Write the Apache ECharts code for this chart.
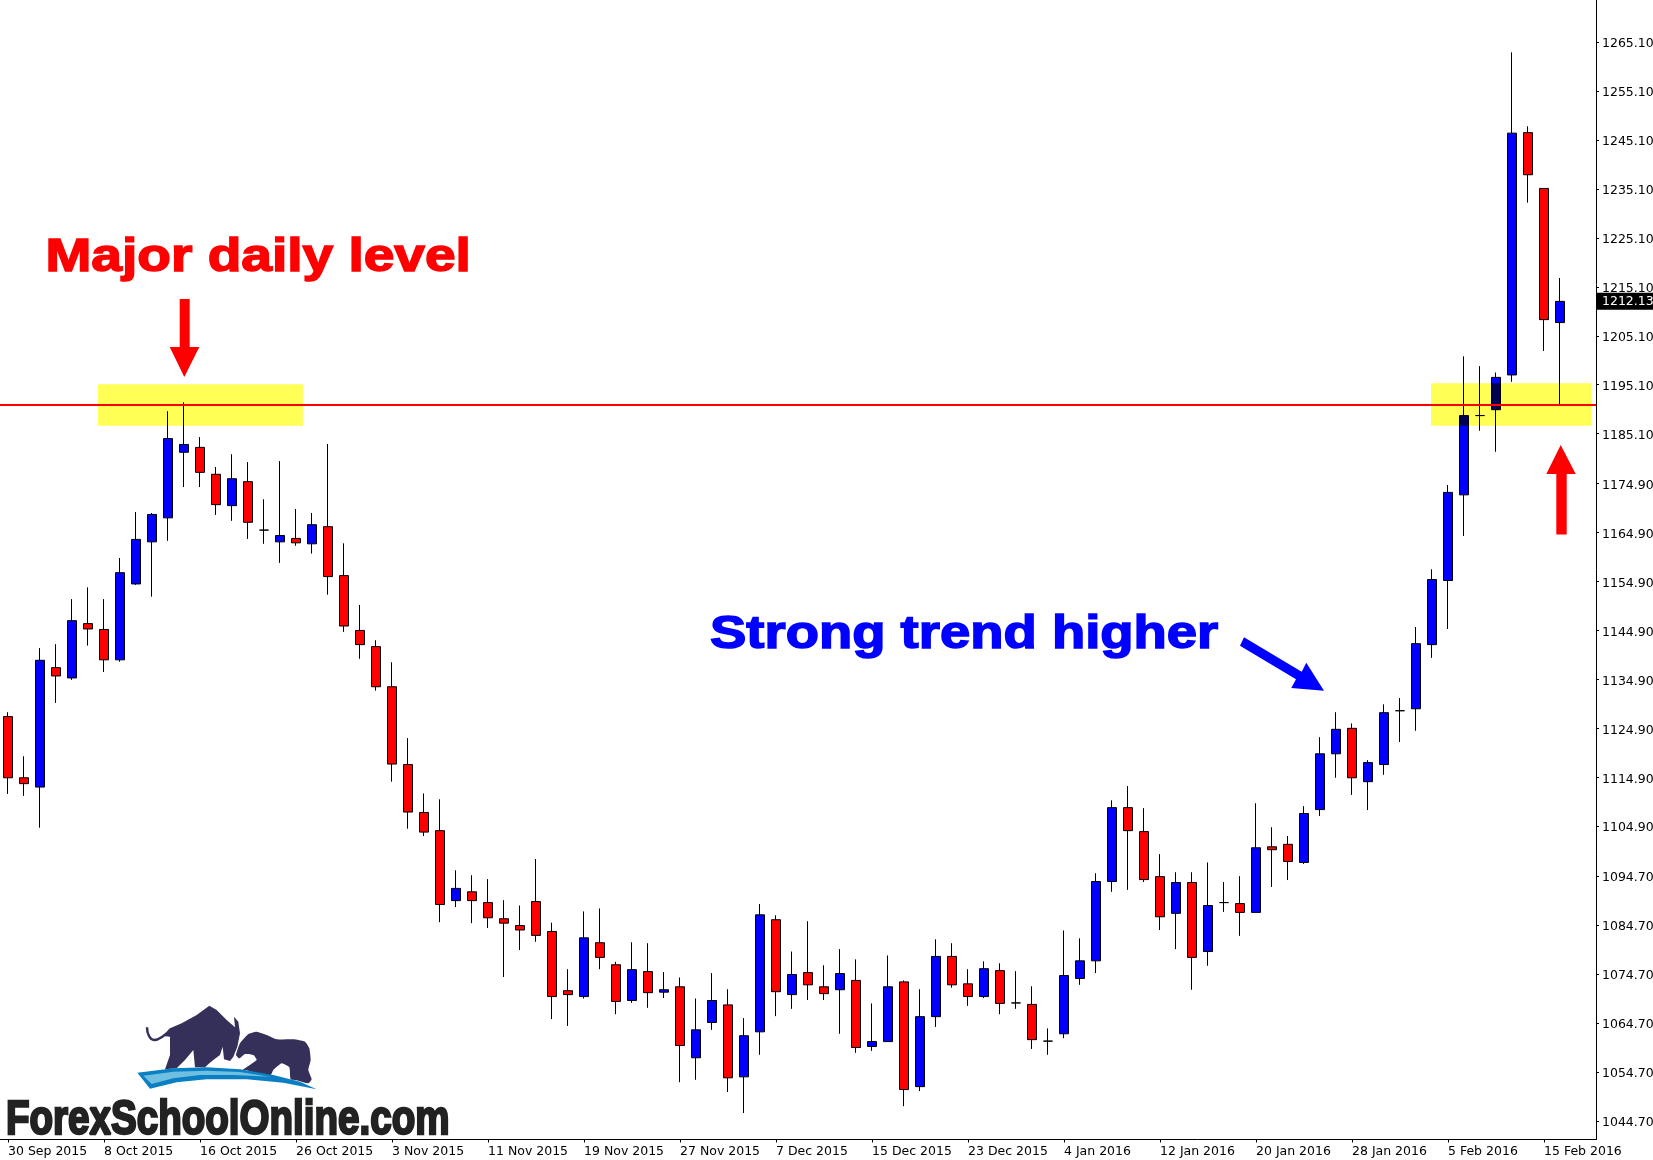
<!DOCTYPE html>
<html><head><meta charset="utf-8">
<style>html,body{margin:0;padding:0;background:#fff;overflow:hidden}#c{width:1653px;height:1160px}</style>
<script src="https://cdn.jsdelivr.net/npm/echarts@6/dist/echarts.min.js"></script>
</head><body><div id="c"></div>
<script>
// candle values, [open, close, low, high]; blue = rising, red = falling
const candlesA = [
[1127.3,1114.8,1111.5,1128.2],[1114.8,1113.6,1111.1,1119.2],[1112.9,1138.8,1104.6,1141.3],[1137.3,1135.6,1130.1,1142.1],
[1135.2,1146.9,1134.8,1151.3],[1146.3,1145.2,1141.8,1153.7],[1145.1,1138.9,1136.4,1151.3],[1138.9,1156.7,1138.5,1159.7],
[1154.4,1163.5,1154.2,1169.1],[1163.0,1168.6,1151.8,1168.9],[1167.9,1184.1,1163.2,1189.7],[1181.3,1182.9,1174.2,1191.5],
[1182.3,1177.2,1174.2,1184.4],[1176.8,1170.6,1168.5,1178.3],[1170.4,1175.9,1167.3,1180.9],[1175.3,1167.0,1163.6,1179.3],
[1165.4,1165.4,1162.6,1171.7],[1163.0,1164.3,1158.7,1179.5],[1163.7,1162.8,1162.2,1169.7],[1162.6,1166.5,1160.6,1168.9],
[1166.1,1155.9,1152.2,1183.0],[1156.1,1145.8,1144.6,1162.7],[1144.9,1142.0,1139.1,1150.1],[1141.6,1133.4,1132.6,1142.9],
[1133.4,1117.6,1114.0,1138.4],[1117.5,1107.8,1104.4,1122.9],[1107.7,1103.7,1102.9,1111.6]];
const candlesB = [
[1104.0,1088.9,1085.3,1110.4],[1089.7,1092.2,1088.4,1095.9],[1091.5,1089.7,1085.1,1094.9],[1089.3,1086.2,1084.1,1094.1],
[1086.0,1085.1,1074.1,1089.8],[1084.6,1083.7,1079.6,1088.7],[1089.5,1082.6,1081.3,1098.2],[1083.4,1070.1,1065.5,1085.2],
[1071.3,1070.5,1064.1,1075.7],[1070.1,1082.1,1069.7,1087.5],[1081.1,1078.1,1075.7,1088.1],[1076.6,1069.1,1066.5,1077.2],
[1069.3,1075.6,1068.8,1081.2],[1075.2,1070.9,1067.8,1081.0],[1071.0,1071.5,1069.8,1075.1],[1072.1,1060.1,1052.6,1074.0],
[1057.6,1063.3,1053.1,1069.7],[1064.8,1069.3,1063.3,1074.9],[1068.4,1053.5,1050.6,1071.6],[1053.7,1062.1,1046.3,1065.7],
[1062.9,1086.8,1058.2,1089.0],[1085.8,1071.1,1066.1,1086.7],[1070.5,1074.6,1067.6,1079.3],[1075.0,1072.5,1069.4,1085.5],
[1072.1,1070.7,1069.4,1076.5],[1071.5,1074.8,1062.5,1079.8],[1073.4,1059.7,1058.6,1077.7],[1059.9,1060.9,1059.0,1068.7],
[1060.9,1072.1,1060.9,1078.5],[1073.1,1051.1,1047.7,1073.4],[1051.7,1066.0,1050.8,1071.6],[1066.0,1078.3,1063.9,1081.8]];
const candlesC = [
[1078.3,1072.5,1071.9,1081.0],[1072.7,1070.1,1068.2,1075.7],[1070.1,1075.8,1069.8,1077.3],[1075.4,1068.7,1066.5,1076.9],
[1068.8,1068.8,1067.6,1075.3],[1068.5,1061.3,1059.4,1072.2],[1061.0,1061.0,1058.2,1063.6],[1062.5,1074.4,1061.6,1083.6],
[1073.8,1077.4,1072.5,1082.0],[1077.4,1093.6,1074.9,1095.3],[1093.6,1108.7,1091.5,1110.2],[1108.7,1104.0,1091.9,1113.1],
[1103.8,1094.0,1093.5,1108.6],[1094.6,1086.4,1083.7,1099.2],[1087.1,1093.4,1079.8,1095.5],[1093.4,1078.1,1071.5,1095.5],
[1079.3,1088.7,1076.4,1097.5],[1089.3,1089.3,1087.4,1093.5],[1089.1,1087.3,1082.5,1094.7],[1087.3,1100.5,1087.3,1109.6],
[1100.7,1100.1,1092.5,1104.7],[1101.2,1097.7,1093.9,1102.9],[1097.5,1107.5,1097.2,1109.0],[1108.3,1119.7,1107.0,1123.1],
[1119.7,1124.7,1114.8,1128.2],[1124.9,1114.8,1111.3,1125.9],[1114.0,1117.9,1108.2,1118.4],[1117.5,1128.1,1115.4,1129.8],
[1128.5,1128.5,1122.1,1131.1],[1128.9,1142.2,1124.4,1145.6],[1142.0,1155.3,1139.3,1157.4],[1155.1,1173.1,1145.2,1174.6],
[1172.6,1188.8,1164.2,1200.9],[1188.8,1188.8,1185.7,1198.9],[1190.0,1196.6,1181.4,1197.6],[1197.1,1246.5,1195.7,1263.0],
[1246.6,1238.0,1232.3,1247.9],[1235.2,1208.4,1202.0,1235.2],[1207.8,1212.13,1190.9,1216.9]];
const dateLabels = ['30 Sep 2015','8 Oct 2015','16 Oct 2015','26 Oct 2015','3 Nov 2015','11 Nov 2015','19 Nov 2015','27 Nov 2015','7 Dec 2015','15 Dec 2015','23 Dec 2015','4 Jan 2016','12 Jan 2016','20 Jan 2016','28 Jan 2016','5 Feb 2016','15 Feb 2016'];
const priceTicks = ['1265.10','1255.10','1245.10','1235.10','1225.10','1215.10','1205.10','1195.10','1185.10','1174.90','1164.90','1154.90','1144.90','1134.90','1124.90','1114.90','1104.90','1094.70','1084.70','1074.70','1064.70','1054.70','1044.70'];
const levelPrice = 1190.93;
const lastPrice = 1212.13;
// [first candle position, last candle position, low price, high price]
const zones = [[5.62,18.43,1186.7,1195.2],[88.94,98.98,1186.7,1195.4]];

const candles = candlesA.concat(candlesB, candlesC);
const rows = candles.map((c,i)=>[i,c[0],c[1],c[2],c[3]]);
const tickIdx = dateLabels.map((d,i)=>i*6);
const font = 'DejaVu Sans';

const chart = echarts.init(document.getElementById('c'),null,{renderer:'canvas'});
const P = a => a.map(p=>[p[0]/3, 980+p[1]/3]);
chart.setOption({
  animation:false,
  backgroundColor:'#fff',
  grid:{left:0,top:0,width:1596,height:1139.5,outerBoundsMode:'none'},
  xAxis:{type:'value',min:-0.5,max:99.25,splitLine:{show:false},
    axisLine:{show:true,onZero:false,lineStyle:{color:'#000',width:1}},
    axisTick:{show:true,customValues:tickIdx,length:3,lineStyle:{color:'#000'}},
    axisLabel:{show:true,customValues:tickIdx,align:'left',margin:6,color:'#000',fontFamily:font,fontSize:12.5,hideOverlap:false,
      formatter:v=>dateLabels[Math.round(v/6)]}},
  yAxis:{type:'value',position:'right',min:1040.9,max:1273.7,splitLine:{show:false},
    axisLine:{show:true,onZero:false,lineStyle:{color:'#000',width:1}},
    axisTick:{show:true,customValues:priceTicks.map(Number),length:3,lineStyle:{color:'#000'}},
    axisLabel:{show:true,customValues:priceTicks.map(Number),margin:6,color:'#000',fontFamily:font,fontSize:12.5,hideOverlap:false,
      rich:{t:{padding:[4,0,0,0],color:'#000',fontFamily:font,fontSize:12.5}},
      formatter:v=>'{t|'+v.toFixed(2)+'}'}},
  series:[
   {type:'candlestick',data:rows,encode:{x:0,y:[1,2,3,4]},barWidth:10,z:2,
    itemStyle:{color:'#0000ff',color0:'#ff0000',borderColor:'#000',borderColor0:'#000',borderColorDoji:'#000',borderWidth:1},
    markLine:{silent:true,symbol:'none',animation:false,z:3,
      data:[
       {yAxis:levelPrice,lineStyle:{color:'#ff0000',width:2,type:'solid'},label:{show:false}},
       {yAxis:lastPrice,lineStyle:{color:'rgba(0,0,0,0)',width:0},label:{show:true,position:'end',distance:1,formatter:String(lastPrice),
          color:'#fff',backgroundColor:'#000',fontFamily:font,fontSize:12.5,padding:[2,10,2,5]}}
      ]}},
   {type:'custom',z:5,clip:false,blendMode:'multiply',data:zones,encode:{x:[0,1],y:[2,3]},silent:true,
    renderItem:(p,api)=>{
      const a=api.coord([api.value(0),api.value(3)]),b=api.coord([api.value(1),api.value(2)]);
      return {type:'rect',shape:{x:a[0],y:a[1],width:b[0]-a[0],height:b[1]-a[1]},style:{fill:'#ffff55'}};
    }}
  ],
  graphic:[
   {type:'text',z:10,x:45.5,y:235,scaleX:1.197,style:{text:'Major daily level',fill:'#ff0000',stroke:'#ff0000',lineWidth:1.5,font:'bold 46px "Liberation Sans"'}},
   {type:'text',z:10,x:710,y:612,scaleX:1.184,style:{text:'Strong trend higher',fill:'#0000ff',stroke:'#0000ff',lineWidth:1.5,font:'bold 46px "Liberation Sans"'}},
   {type:'polygon',z:10,shape:{points:[[179.7,299],[189.7,299],[189.7,347],[199.3,347],[184.3,377],[169.7,347],[179.7,347]]},style:{fill:'#ff0000'}},
   {type:'polygon',z:10,shape:{points:[[1556.3,534.6],[1566.7,534.6],[1566.7,474],[1575.7,474],[1560.7,445],[1546.3,474],[1556.3,474]]},style:{fill:'#ff0000'}},
   {type:'polygon',z:10,shape:{points:[[1244,637.3],[1301.7,671.7],[1306.3,662.7],[1324,690.7],[1291.3,688],[1296,679.3],[1240,645.7]]},style:{fill:'#0000ff'}},
   {type:'polyline',z:10,shape:{smooth:0.5,points:P([[441,142],[447,168],[462,180],[490,168],[512,148]])},style:{fill:'none',stroke:'#35305a',lineWidth:2.5}},
   {type:'polygon',z:10,shape:{points:P([[490,168],[510,145],[545,130],[590,105],[628,77],[650,90],[680,120],[705,142],[702,110],[715,125],[720,160],[712,200],[700,230],[690,243],[672,238],[668,200],[660,225],[640,240],[628,250],[615,262],[585,262],[580,210],[555,240],[530,265],[495,268],[510,225],[510,170]])},style:{fill:'#35305a'}},
   {type:'polygon',z:10,shape:{smooth:0.15,points:P([[708,225],[720,190],[745,162],[770,155],[800,165],[830,178],[880,178],[915,185],[928,205],[932,240],[925,270],[935,298],[925,310],[895,302],[872,298],[868,262],[845,250],[820,270],[812,285],[780,282],[745,272],[728,270],[770,240],[760,225],[735,222],[718,235]])},style:{fill:'#35305a'}},
   {type:'polygon',z:10,shape:{points:P([[412,278],[520,265],[620,262],[720,268],[820,285],[900,305],[950,328],[850,308],[740,298],[620,298],[530,307],[450,326]])},style:{fill:'#0a7fc4'}},
   {type:'polygon',z:10,shape:{points:P([[430,287],[520,275],[620,272],[720,276],[810,290],[700,285],[600,285],[520,295],[455,312]])},style:{fill:'#6fbfe0'}},
   {type:'text',z:10,x:6,y:1096,scaleX:0.787,style:{text:'ForexSchoolOnline.com',fill:'#222222',stroke:'#222222',lineWidth:2.5,font:'bold 49px "Liberation Sans"'}}
  ]
});
</script></body></html>
